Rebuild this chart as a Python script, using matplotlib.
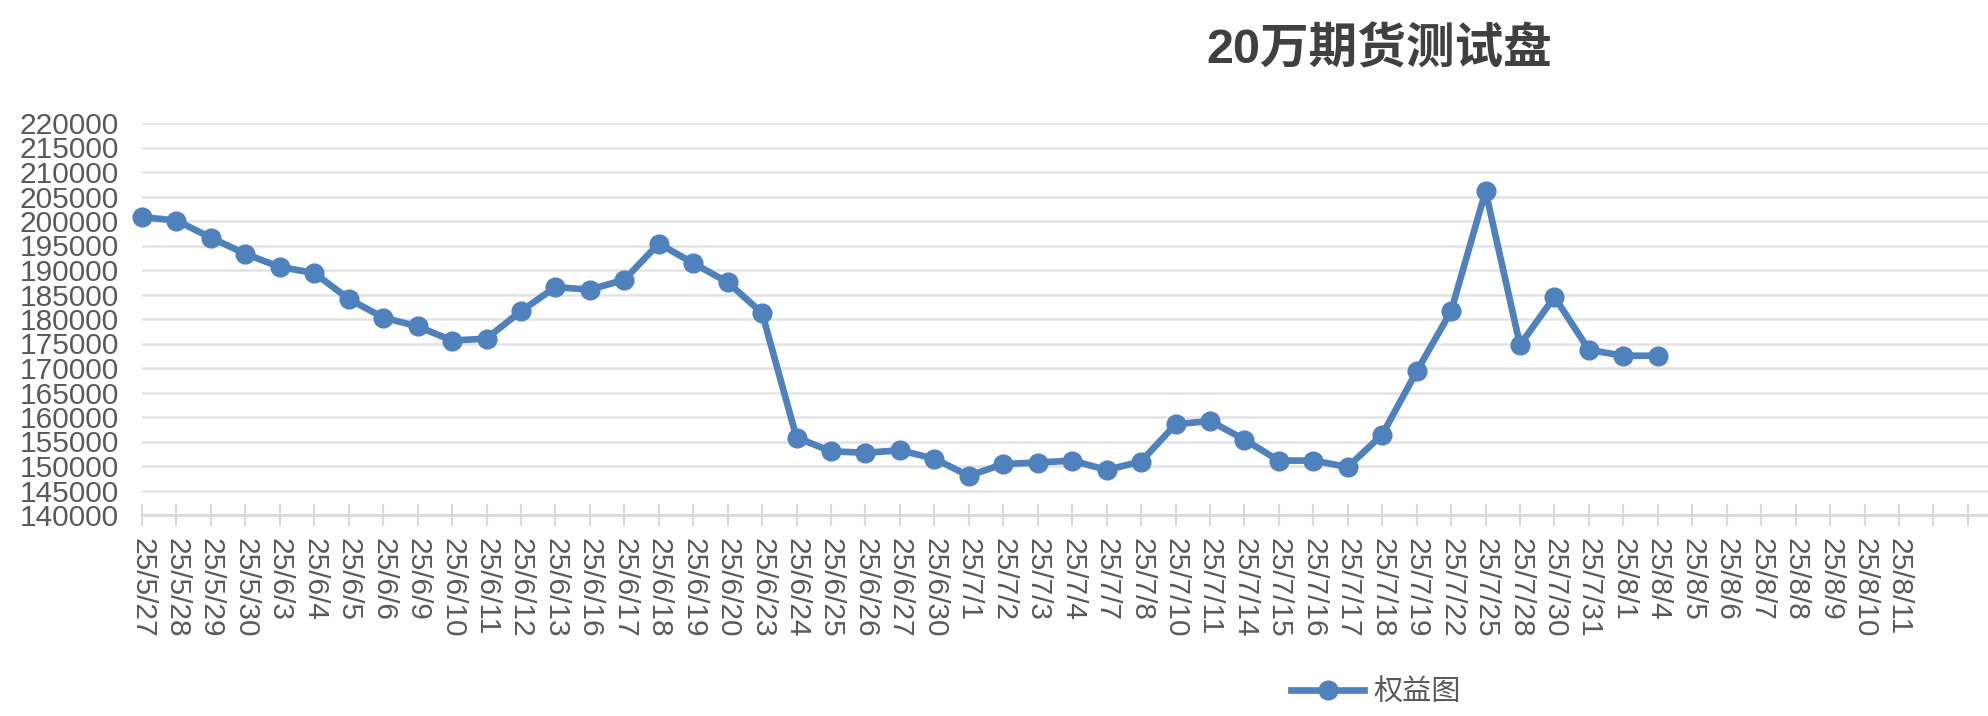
import numpy as np
import matplotlib
matplotlib.use("Agg")
import matplotlib.pyplot as plt

plt.rcParams['font.family'] = ['Liberation Sans', 'Noto Sans CJK SC']

# category labels on the x axis (two empty slots at the end)
dates = ["25/5/27", "25/5/28", "25/5/29", "25/5/30", "25/6/3", "25/6/4", "25/6/5",
         "25/6/6", "25/6/9", "25/6/10", "25/6/11", "25/6/12", "25/6/13", "25/6/16",
         "25/6/17", "25/6/18", "25/6/19", "25/6/20", "25/6/23", "25/6/24", "25/6/25",
         "25/6/26", "25/6/27", "25/6/30", "25/7/1", "25/7/2", "25/7/3", "25/7/4",
         "25/7/7", "25/7/8", "25/7/10", "25/7/11", "25/7/14", "25/7/15", "25/7/16",
         "25/7/17", "25/7/18", "25/7/19", "25/7/22", "25/7/25", "25/7/28", "25/7/30",
         "25/7/31", "25/8/1", "25/8/4", "25/8/5", "25/8/6", "25/8/7", "25/8/8",
         "25/8/9", "25/8/10", "25/8/11", "", ""]

# equity values (only filled up to 25/8/4)
equity = [200800, 200100, 196600, 193300, 190600, 189400, 184100,
          180300, 178500, 175600, 176000, 181600, 186500, 186000,
          188000, 195400, 191400, 187500, 181200, 155800, 153000,
          152700, 153200, 151500, 148000, 150400, 150700, 151100,
          149200, 150900, 158500, 159200, 155400, 151100, 151100,
          149800, 156400, 169300, 181600, 206100, 174700, 184500,
          173700, 172500, 172500]

y_ticks = np.arange(140000, 220001, 5000)

title = "20万期货测试盘"
series_name = "权益图"

W, H = 1988, 716
fig = plt.figure(figsize=(W / 100, H / 100), dpi=100)
ax = fig.add_axes([142 / W, 1 - 515 / H, 1 - 142 / W, (515 - 123) / H])

blue = "#4f81bd"
gray_txt = "#595959"

ax.plot(np.arange(len(equity)), equity, color=blue, lw=4.8, marker="o",
        markersize=13.5, label=series_name, clip_on=False, zorder=3)

ax.set_xlim(0, (W - 142) / 34.45)
ax.set_ylim(140000, 220000)
ax.set_yticks(y_ticks)
ax.set_yticklabels([str(v) for v in y_ticks])
ax.set_xticks(np.arange(len(dates)))
ax.set_xticklabels(dates, rotation=-90)

ax.grid(axis="y", color="#e3e3e3", lw=1.8)
ax.set_axisbelow(True)
for s in ["top", "right", "left"]:
    ax.spines[s].set_visible(False)
ax.spines["bottom"].set_color("#d9d9d9")
ax.spines["bottom"].set_linewidth(2)

ax.tick_params(axis="x", direction="inout", length=16.5, width=1.5,
               color="#d9d9d9", labelsize=21.5, labelcolor=gray_txt, pad=8)
ax.tick_params(axis="y", length=0, labelsize=21.5, labelcolor=gray_txt, pad=16.5)

fig.text(1379 / W, 1 - 50 / H, title, ha="center", va="center",
         fontsize=35, fontweight="bold", color="#404040")

fig.legend(loc="center", bbox_to_anchor=(1376 / W, 1 - 692 / H), frameon=False,
           fontsize=21, labelcolor=gray_txt, handlelength=2.5, handletextpad=0.3,
           borderpad=0)

fig.savefig("out.png", dpi=100)
